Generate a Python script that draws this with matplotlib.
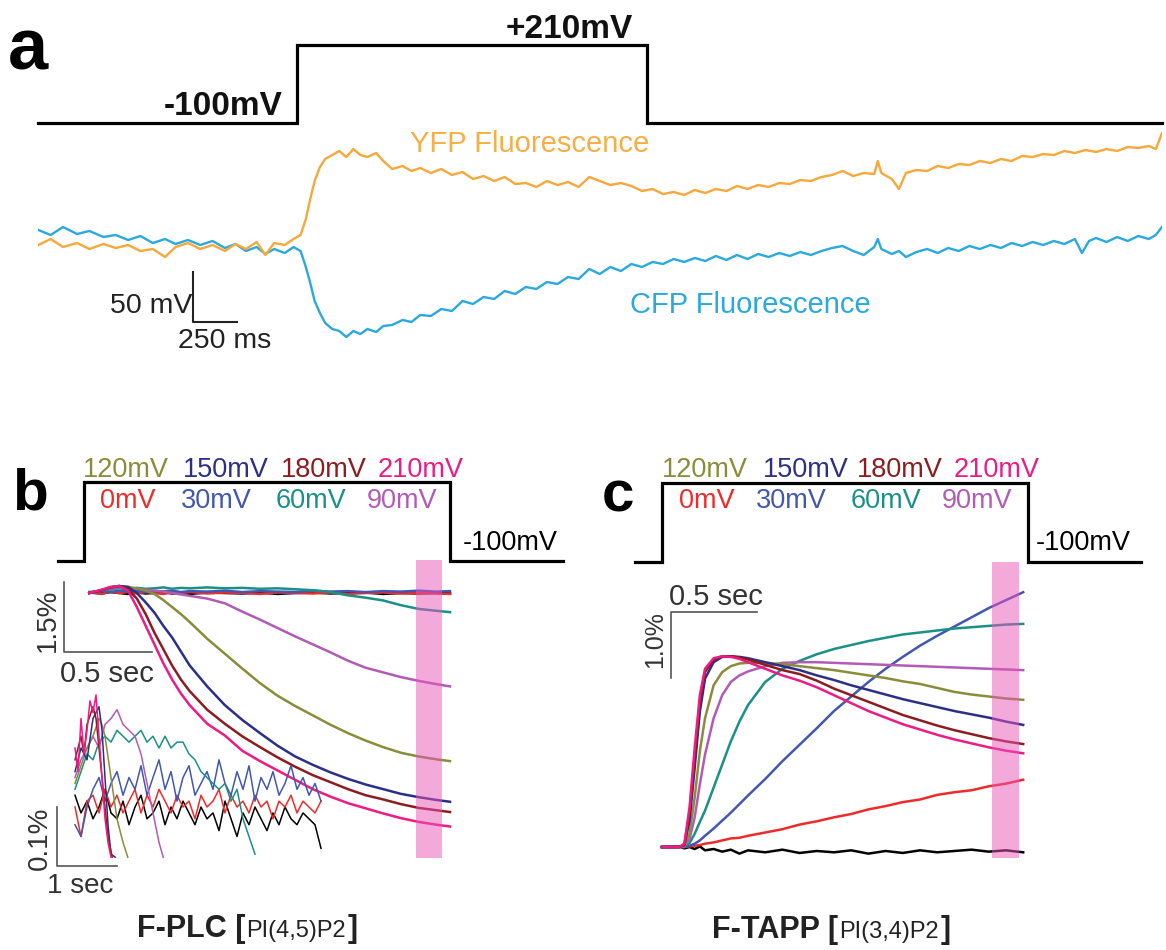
import numpy as np
import matplotlib.pyplot as plt
from matplotlib.offsetbox import TextArea, HPacker, AnchoredOffsetbox

plt.rcParams['font.family'] = ['Liberation Sans', 'DejaVu Sans']

# ---------------- data ----------------
# panel a: command step (ms, mV) and fluorescence (ms, dF a.u.)
cmd_a_t = [-1472, 0, 0, 1989, 1989, 4915]
cmd_a_mv = [-100, -100, 210, 210, -100, -100]

yfp_pts = [(-1470, 0.0), (-1400, 0.3), (-1330, -0.1), (-1250, 0.1), (-1180, -0.2), (-1100, 0.05),
           (-1030, -0.15), (-960, 0.0), (-890, -0.3), (-820, -0.2), (-750, -0.6), (-690, -0.1),
           (-620, 0.1), (-550, -0.2), (-480, 0.0), (-410, -0.3), (-350, 0.05), (-290, -0.2),
           (-230, 0.15), (-180, -0.5), (-130, 0.1), (-70, 0.0), (-20, 0.3), (20, 0.5), (50, 1.3),
           (75, 2.3), (100, 3.2), (130, 3.9), (160, 4.3), (200, 4.5), (240, 4.7), (280, 4.4),
           (320, 4.8), (360, 4.5), (400, 4.4), (450, 4.6), (490, 4.2), (540, 3.8), (600, 3.95),
           (650, 3.7), (700, 3.85), (760, 3.6), (820, 3.8), (880, 3.5), (940, 3.65), (1000, 3.3),
           (1060, 3.45), (1120, 3.2), (1180, 3.4), (1240, 3.05), (1300, 3.1), (1360, 2.9),
           (1420, 3.2), (1480, 3.0), (1540, 3.15), (1600, 2.9), (1660, 3.4), (1720, 3.2),
           (1780, 3.0), (1840, 3.1), (1900, 2.95), (1960, 2.7), (2020, 2.8), (2080, 2.55),
           (2140, 2.65), (2200, 2.5), (2260, 2.75), (2320, 2.6), (2380, 2.8), (2440, 2.7),
           (2500, 2.95), (2560, 2.8), (2620, 3.0), (2680, 2.9), (2740, 3.1), (2800, 3.05),
           (2860, 3.25), (2920, 3.2), (2980, 3.4), (3040, 3.5), (3100, 3.7), (3160, 3.45),
           (3220, 3.6), (3280, 3.55), (3300, 4.2), (3320, 3.6), (3380, 3.3), (3420, 2.8),
           (3460, 3.6), (3520, 3.75), (3580, 3.7), (3640, 3.95), (3700, 3.85), (3760, 4.05),
           (3820, 4.0), (3880, 4.2), (3940, 4.1), (4000, 4.3), (4060, 4.2), (4120, 4.45),
           (4180, 4.4), (4240, 4.55), (4300, 4.5), (4360, 4.7), (4420, 4.6), (4480, 4.75),
           (4540, 4.65), (4600, 4.8), (4660, 4.7), (4720, 4.9), (4780, 4.85), (4840, 4.95),
           (4880, 4.8), (4915, 5.6)]

cfp_pts = [(-1470, 0.75), (-1400, 0.5), (-1330, 0.9), (-1250, 0.55), (-1180, 0.7), (-1100, 0.4),
           (-1030, 0.5), (-960, 0.25), (-890, 0.45), (-820, 0.1), (-750, 0.3), (-690, 0.05),
           (-620, 0.25), (-550, 0.0), (-480, 0.2), (-410, -0.15), (-350, 0.05), (-290, -0.3),
           (-230, -0.1), (-180, -0.45), (-130, -0.2), (-70, -0.4), (-20, -0.1), (20, -0.3),
           (50, -1.1), (75, -1.9), (100, -2.8), (130, -3.4), (160, -3.9), (200, -4.2),
           (240, -4.3), (280, -4.6), (320, -4.3), (360, -4.45), (400, -4.2), (450, -4.35),
           (490, -4.05), (540, -4.0), (600, -3.75), (650, -3.85), (700, -3.5), (760, -3.55),
           (820, -3.2), (880, -3.3), (940, -2.8), (1000, -2.95), (1060, -2.6), (1120, -2.7),
           (1180, -2.3), (1240, -2.45), (1300, -2.1), (1360, -2.2), (1420, -1.85), (1480, -1.95),
           (1540, -1.6), (1600, -1.7), (1660, -1.2), (1720, -1.45), (1780, -1.1), (1840, -1.3),
           (1900, -0.95), (1960, -1.1), (2020, -0.85), (2080, -0.95), (2140, -0.7), (2200, -0.85),
           (2260, -0.65), (2320, -0.8), (2380, -0.55), (2440, -0.75), (2500, -0.5), (2560, -0.7),
           (2620, -0.45), (2680, -0.6), (2740, -0.4), (2800, -0.55), (2860, -0.35), (2920, -0.5),
           (2980, -0.3), (3040, -0.15), (3100, -0.05), (3160, -0.3), (3220, -0.5), (3280, -0.1),
           (3300, 0.3), (3320, -0.2), (3380, -0.45), (3420, -0.3), (3460, -0.6), (3520, -0.35),
           (3580, -0.2), (3640, -0.4), (3700, -0.15), (3760, -0.3), (3820, -0.05), (3880, -0.2),
           (3940, 0.0), (4000, -0.15), (4060, 0.1), (4120, -0.05), (4180, 0.15), (4240, 0.0),
           (4300, 0.2), (4360, 0.05), (4420, 0.3), (4460, -0.4), (4500, 0.2), (4540, 0.35),
           (4600, 0.15), (4660, 0.4), (4720, 0.2), (4780, 0.45), (4840, 0.3), (4880, 0.5),
           (4915, 0.9)]

# panels b and c: voltage steps
volt_labels = ['0mV', '30mV', '60mV', '90mV', '120mV', '150mV', '180mV', '210mV']
volt_colors = ['#ee2b2b', '#4257b2', '#1b9088', '#b35ab6', '#8a8c3a', '#2b2f86', '#8c1c1f', '#ee1b84']
step_level = [0, 0, 1, 1, 0, 0]
cmd_b_t = [-0.148, 0, 0, 2.08, 2.08, 2.72]
cmd_c_t = [-0.157, 0, 0, 2.13, 2.13, 2.785]

# panel b: F-PLC, dF/F (%) vs time (s)
tb = [0.03, 0.10, 0.15, 0.20, 0.25, 0.30, 0.35, 0.40, 0.45, 0.50, 0.55, 0.60, 0.70, 0.80,
      0.90, 1.00, 1.10, 1.20, 1.30, 1.40, 1.50, 1.60, 1.70, 1.80, 1.90, 2.00, 2.08]
b_ctrl = [0.01, -0.01, 0.02, 0.0, -0.02, 0.01, -0.01, 0.0, 0.02, -0.01, 0.0, -0.02, 0.01, 0.0,
          -0.01, 0.01, -0.02, 0.0, 0.01, -0.01, 0.0, 0.01, -0.02, 0.0, -0.01, 0.0, -0.01]
b_traces = [
    [0.02, -0.02, 0.03, 0.0, 0.02, -0.01, 0.02, 0.0, -0.02, 0.01, 0.0, 0.02, -0.01, 0.01,
     0.0, -0.02, 0.01, 0.0, -0.01, 0.01, -0.02, 0.0, 0.01, -0.01, 0.0, -0.01, -0.02],
    [0.0, 0.04, 0.02, 0.05, 0.03, 0.05, 0.02, 0.04, 0.03, 0.05, 0.02, 0.04, 0.03, 0.05,
     0.02, 0.04, 0.03, 0.02, 0.05, 0.03, 0.04, 0.02, 0.04, 0.03, 0.05, 0.03, 0.04],
    [0.02, 0.05, 0.08, 0.1, 0.08, 0.11, 0.09, 0.1, 0.12, 0.09, 0.11, 0.1, 0.12, 0.1,
     0.11, 0.09, 0.1, 0.08, 0.06, 0.02, -0.05, -0.1, -0.16, -0.26, -0.34, -0.38, -0.41],
    [0.0, 0.06, 0.1, 0.12, 0.1, 0.09, 0.07, 0.05, 0.03, 0.0, -0.03, -0.06, -0.12, -0.22,
     -0.4, -0.57, -0.75, -0.93, -1.1, -1.27, -1.45, -1.6, -1.7, -1.8, -1.88, -1.95, -2.0],
    [0.0, 0.06, 0.12, 0.14, 0.13, 0.1, 0.05, -0.02, -0.15, -0.3, -0.45, -0.62, -0.98, -1.3,
     -1.62, -1.93, -2.2, -2.42, -2.62, -2.82, -3.0, -3.16, -3.3, -3.42, -3.5, -3.56, -3.6],
    [0.0, 0.06, 0.12, 0.15, 0.13, 0.0, -0.2, -0.42, -0.7, -0.95, -1.25, -1.55, -2.0, -2.4,
     -2.72, -3.0, -3.27, -3.5, -3.68, -3.84, -3.98, -4.1, -4.2, -4.3, -4.37, -4.43, -4.47],
    [0.0, 0.06, 0.12, 0.15, 0.08, -0.12, -0.45, -0.85, -1.2, -1.55, -1.85, -2.1, -2.5, -2.8,
     -3.07, -3.3, -3.52, -3.72, -3.9, -4.05, -4.2, -4.33, -4.42, -4.52, -4.6, -4.65, -4.69],
    [0.0, 0.07, 0.13, 0.15, 0.05, -0.3, -0.7, -1.1, -1.5, -1.85, -2.15, -2.4, -2.8, -3.05,
     -3.38, -3.6, -3.8, -4.0, -4.2, -4.36, -4.5, -4.61, -4.72, -4.82, -4.9, -4.96, -5.0],
]
band_b_t = [1.886, 2.034]
band_b_v = (-5.67, 0.71)

# panel b inset: derivative traces (%), time (s)
ins_t = [0.0, 0.1, 0.2, 0.3, 0.4, 0.5, 0.6, 0.7, 0.8, 0.9, 1.0, 1.1, 1.2, 1.3, 1.4, 1.5, 1.6,
         1.7, 1.8, 1.9, 2.0, 2.1, 2.2, 2.3, 2.4, 2.5, 2.6, 2.7, 2.8, 2.9, 3.0, 3.1, 3.2, 3.3,
         3.4, 3.5, 3.6, 3.7, 3.8, 3.9, 4.0, 4.1]
ins_ctrl = [0.02, -0.01, 0.01, -0.02, 0.0, 0.03, -0.01, -0.02, 0.01, -0.03, 0.0, 0.02, -0.02,
            -0.01, 0.01, -0.03, 0.0, -0.02, 0.01, -0.01, -0.03, 0.0, -0.02, -0.01, -0.04, 0.01,
            -0.02, -0.05, -0.01, -0.03, 0.0, -0.02, -0.04, -0.01, -0.03, 0.0, -0.02, -0.03,
            -0.01, -0.02, -0.03, -0.07]
ins_0 = [0.0, -0.05, 0.01, 0.02, -0.01, 0.03, 0.0, 0.02, -0.01, 0.01, 0.03, -0.01, 0.02, 0.0,
         0.03, 0.01, -0.01, 0.02, 0.0, 0.01, -0.02, 0.02, 0.0, 0.01, 0.03, -0.01, 0.02, 0.0,
         0.01, -0.01, 0.02, 0.0, 0.01, -0.02, 0.01, 0.0, 0.02, -0.01, 0.01, 0.0, -0.01, 0.01]
ins_30 = [-0.03, -0.05, 0.0, 0.03, 0.05, 0.01, 0.04, 0.06, 0.02, 0.05, 0.03, 0.07, 0.02, 0.05,
          0.08, 0.03, 0.06, 0.01, 0.05, 0.07, 0.02, 0.04, 0.06, 0.03, 0.08, 0.04, 0.02, 0.06,
          0.03, 0.07, 0.01, 0.05, 0.03, 0.06, 0.02, 0.04, 0.07, 0.03, 0.05, 0.02, 0.04, 0.01]
ins_60 = [0.03, 0.06, 0.09, 0.08, 0.11, 0.12, 0.11, 0.13, 0.12, 0.11, 0.12, 0.13, 0.11, 0.12,
          0.10, 0.12, 0.10, 0.11, 0.11, 0.09, 0.08, 0.06, 0.05, 0.04, 0.03, 0.04, 0.01, 0.03,
          -0.02, -0.05, -0.08]
ins_90 = [(0, 0.05), (0.1, 0.08), (0.2, 0.1), (0.3, 0.12), (0.4, 0.1), (0.5, 0.14), (0.6, 0.15),
          (0.7, 0.165), (0.8, 0.14), (0.9, 0.13), (1.0, 0.12), (1.1, 0.09), (1.2, 0.04),
          (1.3, -0.01), (1.4, -0.06), (1.47, -0.085)]
ins_120 = [(0, 0.04), (0.1, 0.07), (0.2, 0.1), (0.3, 0.12), (0.4, 0.15), (0.45, 0.14),
           (0.5, 0.12), (0.6, 0.05), (0.7, -0.02), (0.8, -0.06), (0.88, -0.085)]
ins_150 = [(0, 0.06), (0.1, 0.1), (0.2, 0.08), (0.3, 0.15), (0.4, 0.17), (0.45, 0.13),
           (0.5, 0.05), (0.55, -0.03), (0.6, -0.08), (0.67, -0.085)]
ins_180 = [(0, 0.08), (0.1, 0.12), (0.15, 0.09), (0.2, 0.14), (0.3, 0.17), (0.35, 0.15),
           (0.4, 0.1), (0.5, 0.0), (0.55, -0.05), (0.62, -0.085)]
ins_210 = [(0, 0.1), (0.05, 0.06), (0.1, 0.15), (0.15, 0.09), (0.2, 0.13), (0.25, 0.18),
           (0.3, 0.16), (0.35, 0.19), (0.4, 0.12), (0.45, 0.05), (0.5, -0.02), (0.55, -0.06),
           (0.6, -0.085)]

# panel c: F-TAPP, dF/F (%) vs time (s)
tc = [0, 0.10, 0.13, 0.16, 0.19, 0.22, 0.25, 0.30, 0.35, 0.40, 0.45, 0.50, 0.60, 0.70,
      0.80, 0.90, 1.00, 1.10, 1.20, 1.30, 1.40, 1.50, 1.60, 1.70, 1.80, 1.90, 2.00, 2.10]
c_ctrl = [0, 0.01, -0.02, 0.0, -0.03, 0.01, -0.05, -0.03, -0.07, -0.04, -0.1, -0.05, -0.08,
          -0.04, -0.09, -0.06, -0.08, -0.05, -0.1, -0.06, -0.09, -0.05, -0.08, -0.06, -0.04,
          -0.07, -0.05, -0.08]
c_traces = [
    [0, 0, 0, 0.01, 0.02, 0.03, 0.05, 0.07, 0.10, 0.13, 0.14, 0.17, 0.22, 0.27, 0.34, 0.39,
     0.45, 0.50, 0.57, 0.62, 0.68, 0.72, 0.79, 0.83, 0.86, 0.92, 0.96, 1.02],
    [0, 0, 0, 0.02, 0.05, 0.10, 0.17, 0.28, 0.40, 0.52, 0.65, 0.78, 1.03, 1.30, 1.55, 1.80,
     2.06, 2.28, 2.50, 2.70, 2.88, 3.05, 3.20, 3.34, 3.48, 3.62, 3.74, 3.86],
    [0, 0, 0.01, 0.06, 0.2, 0.38, 0.55, 0.9, 1.25, 1.6, 1.9, 2.15, 2.5, 2.7, 2.82, 2.92,
     3.0, 3.06, 3.12, 3.17, 3.22, 3.25, 3.28, 3.31, 3.33, 3.35, 3.37, 3.38],
    [0, 0, 0.01, 0.12, 0.45, 0.95, 1.4, 1.95, 2.3, 2.5, 2.6, 2.66, 2.74, 2.79, 2.80, 2.80,
     2.79, 2.78, 2.77, 2.76, 2.75, 2.74, 2.73, 2.72, 2.71, 2.70, 2.69, 2.68],
    [0, 0, 0.02, 0.2, 0.75, 1.45, 1.95, 2.45, 2.65, 2.74, 2.78, 2.79, 2.79, 2.77, 2.74, 2.71,
     2.68, 2.64, 2.60, 2.56, 2.51, 2.47, 2.41, 2.35, 2.31, 2.28, 2.25, 2.23],
    [0, 0, 0.03, 0.4, 1.2, 2.05, 2.55, 2.80, 2.88, 2.89, 2.88, 2.86, 2.80, 2.74, 2.68, 2.60,
     2.53, 2.45, 2.38, 2.31, 2.24, 2.18, 2.12, 2.06, 2.01, 1.96, 1.90, 1.85],
    [0, 0, 0.04, 0.5, 1.35, 2.2, 2.65, 2.84, 2.89, 2.89, 2.87, 2.84, 2.76, 2.68, 2.62, 2.52,
     2.40, 2.30, 2.20, 2.10, 2.00, 1.92, 1.84, 1.77, 1.71, 1.65, 1.60, 1.56],
    [0, 0, 0.05, 0.6, 1.5, 2.3, 2.7, 2.86, 2.89, 2.88, 2.85, 2.80, 2.70, 2.60, 2.52, 2.42,
     2.30, 2.18, 2.06, 1.96, 1.86, 1.78, 1.70, 1.63, 1.57, 1.51, 1.46, 1.42],
]
band_c_t = [1.919, 2.076]
band_c_v = (-0.17, 4.32)

# ---------------- figure ----------------
W, H = 1166, 950
fig = plt.figure(figsize=(W / 100, H / 100), dpi=100)

BAND = '#eb55b9'
SCALE = '#555555'


def px_axes(x0, y0, x1, y1, xlim, ylim):
    ax = fig.add_axes([x0 / W, 1 - y1 / H, (x1 - x0) / W, (y1 - y0) / H])
    ax.set_xlim(*xlim)
    ax.set_ylim(*ylim)
    ax.axis('off')
    return ax


def label(x, y, s, **kw):
    kw.setdefault('va', 'baseline')
    fig.text(x / W, 1 - y / H, s, **kw)


def title(x, y, name, lipid):
    parts = [TextArea(name + ' [', textprops=dict(fontsize=22, fontweight='bold', color='#222222')),
             TextArea(lipid, textprops=dict(fontsize=17, color='#222222')),
             TextArea(']', textprops=dict(fontsize=22, fontweight='bold', color='#222222'))]
    box = HPacker(children=parts, align='baseline', pad=0, sep=1)
    anch = AnchoredOffsetbox(loc='center', child=box, frameon=False, pad=0,
                             bbox_to_anchor=(x / W, 1 - y / H), bbox_transform=fig.transFigure)
    fig.add_artist(anch)


# ---- panel a ----
ax = px_axes(38, 45, 1162, 123, (-1472, 4915), (-100, 210))
ax.plot(cmd_a_t, cmd_a_mv, color='k', lw=2.3, clip_on=False, solid_joinstyle='miter')

ax = px_axes(38, 120, 1162, 360, (-1472, 4915), (-5.75, 6.25))
t, v = zip(*cfp_pts)
ax.plot(t, v, color='#2aa9e0', lw=1.7)
t, v = zip(*yfp_pts)
ax.plot(t, v, color='#f7a83a', lw=1.7)
ax.plot([-591, -591, -341], [-1.35, -3.85, -3.85], color='#222222', lw=1.5)

label(8, 70, 'a', fontsize=52, fontweight='bold')
label(283, 115, '-100mV', fontsize=24, fontweight='bold', ha='right', color='#111111')
label(633, 38, '+210mV', fontsize=24, fontweight='bold', ha='right', color='#111111')
label(410, 152, 'YFP Fluorescence', fontsize=21, color='#f7ae45')
label(630, 313, 'CFP Fluorescence', fontsize=21, color='#2aa9e0')
label(192, 313, '50 mV', fontsize=20.5, ha='right', color='#222222')
label(178, 348, '250 ms', fontsize=20.5, color='#222222')

# ---- panel b ----
ax = px_axes(58, 482, 563, 561, (-0.148, 2.722), (0, 1))
ax.plot(cmd_b_t, step_level, color='k', lw=2.3, clip_on=False, solid_joinstyle='miter')

ax = px_axes(58, 560, 563, 870, (-0.148, 2.722), (-5.931, 0.7066))
ax.plot(tb, b_ctrl, color='k', lw=1.8)
for vals, col in zip(b_traces, volt_colors):
    ax.plot(tb, vals, color=col, lw=1.8)
ax.fill_between(band_b_t, band_b_v[0], band_b_v[1], color=BAND, alpha=0.5, lw=0, zorder=5)
ax.plot([-0.114, -0.114, 0.386], [0.236, -1.264, -1.264], color=SCALE, lw=1.2)

ax = px_axes(30, 680, 340, 900, (-0.75, 4.4167), (-0.1576, 0.2153))
ax.plot(ins_t[:len(ins_ctrl)], ins_ctrl, color='k', lw=1.1)
ax.plot(ins_t[:len(ins_0)], ins_0, color=volt_colors[0], lw=1.1)
ax.plot(ins_t[:len(ins_30)], ins_30, color=volt_colors[1], lw=1.1)
ax.plot(ins_t[:len(ins_60)], ins_60, color=volt_colors[2], lw=1.1)
for pts, col in zip([ins_90, ins_120, ins_150, ins_180, ins_210], volt_colors[3:]):
    t, v = zip(*pts)
    ax.plot(t, v, color=col, lw=1.1)
ax.plot([-0.3, -0.3, 0.7], [0.0, -0.1, -0.1], color=SCALE, lw=1.2)

label(12, 510, 'b', fontsize=42, fontweight='bold')
row1_b = [83, 183, 281, 378]
row2_b = [100, 181, 276, 367]
for i in range(4):
    label(row2_b[i], 508, volt_labels[i], fontsize=19.5, color=volt_colors[i])
    label(row1_b[i], 477, volt_labels[i + 4], fontsize=19.5, color=volt_colors[i + 4])
label(463, 550, '-100mV', fontsize=19.5)
label(48, 620, '1.5%', fontsize=20, rotation=90, ha='center', va='center', color='#333333')
label(60, 682, '0.5 sec', fontsize=21, color='#333333')
label(40, 838, '0.1%', fontsize=20, rotation=90, ha='center', va='center', color='#333333')
label(47, 893, '1 sec', fontsize=20, color='#333333')
title(247, 929, 'F-PLC', 'PI(4,5)P2')

# ---- panel c ----
ax = px_axes(635, 483, 1141, 562, (-0.157, 2.785), (0, 1))
ax.plot(cmd_c_t, step_level, color='k', lw=2.3, clip_on=False, solid_joinstyle='miter')

ax = px_axes(635, 560, 1141, 870, (-0.157, 2.785), (-0.348, 4.348))
ax.plot(tc, c_ctrl, color='k', lw=1.8)
for vals, col in zip(c_traces, volt_colors):
    ax.plot(tc, vals, color=col, lw=1.8)
ax.fill_between(band_c_t, band_c_v[0], band_c_v[1], color=BAND, alpha=0.5, lw=0, zorder=5)
ax.plot([0.552, 0.052, 0.052], [3.56, 3.56, 2.56], color=SCALE, lw=1.2)

label(602, 512, 'c', fontsize=42, fontweight='bold')
row1_c = [662, 763, 857, 954]
row2_c = [679, 756, 851, 942]
for i in range(4):
    label(row2_c[i], 508, volt_labels[i], fontsize=19.5, color=volt_colors[i])
    label(row1_c[i], 477, volt_labels[i + 4], fontsize=19.5, color=volt_colors[i + 4])
label(1036, 550, '-100mV', fontsize=19.5)
label(669, 605, '0.5 sec', fontsize=21, color='#333333')
label(655, 640, '1.0%', fontsize=18, rotation=90, ha='center', va='center', color='#333333')
title(831, 930, 'F-TAPP', 'PI(3,4)P2')

fig.savefig('out.png', dpi=100, facecolor='white')
